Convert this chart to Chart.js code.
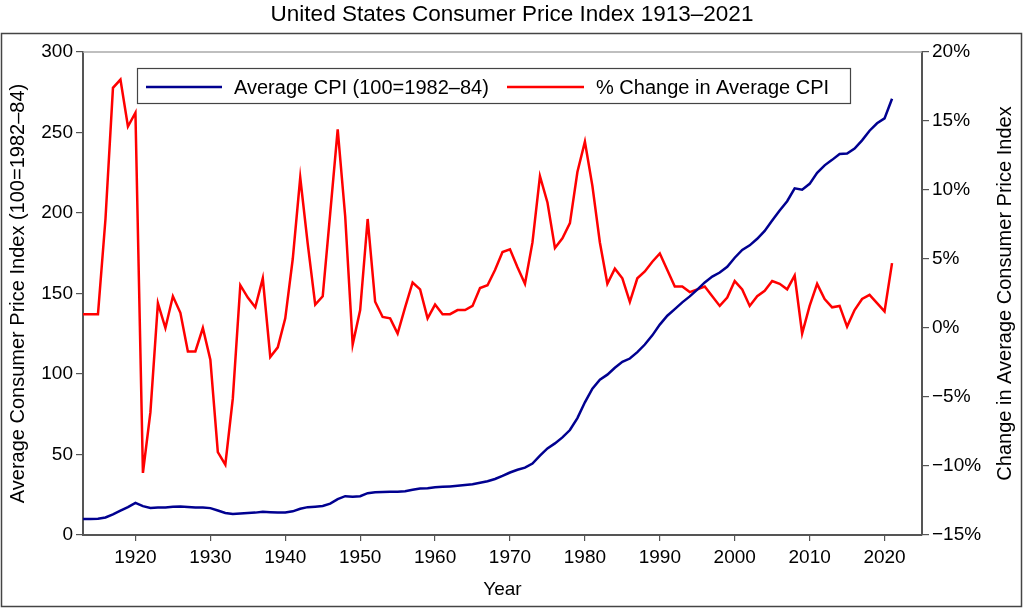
<!DOCTYPE html>
<html><head><meta charset="utf-8">
<script src="https://cdn.jsdelivr.net/npm/chart.js@4"></script>
<style>html,body{margin:0;padding:0;background:#fff}#wrap{width:1024px;height:609px;position:relative}</style>
</head><body><div id="wrap"><canvas id="c" width="1024" height="609"></canvas></div>
<script>
const years = [];
for (let y = 1913; y <= 2021; y++) years.push(y);
const cpi = [9.9,10.0,10.1,10.9,12.8,15.1,17.3,20.0,17.9,16.8,17.1,17.1,17.5,17.7,17.4,17.1,17.1,16.7,15.2,13.7,13.0,13.4,13.7,13.9,14.4,14.1,13.9,14.0,14.7,16.3,17.3,17.6,18.0,19.5,22.3,24.1,23.8,24.1,26.0,26.5,26.7,26.9,26.8,27.2,28.1,28.9,29.1,29.6,29.9,30.2,30.6,31.0,31.5,32.4,33.4,34.8,36.7,38.8,40.5,41.8,44.4,49.3,53.8,56.9,60.6,65.2,72.6,82.4,90.9,96.5,99.6,103.9,107.6,109.6,113.6,118.3,124.0,130.7,136.2,140.3,144.5,148.2,152.4,156.9,160.5,163.0,166.6,172.2,177.1,179.9,184.0,188.9,195.3,201.6,207.3,215.3,214.5,218.1,224.9,229.6,233.0,236.7,237.0,240.0,245.1,251.1,255.7,258.8,271.0];
const pctChange = [1.0,1.0,1.0,7.9,17.4,18.0,14.6,15.6,-10.5,-6.1,1.8,0.0,2.3,1.1,-1.7,-1.7,0.0,-2.3,-9.0,-9.9,-5.1,3.1,2.2,1.5,3.6,-2.1,-1.4,0.7,5.0,10.9,6.1,1.7,2.3,8.3,14.4,8.1,-1.2,1.3,7.9,1.9,0.8,0.7,-0.4,1.5,3.3,2.8,0.7,1.7,1.0,1.0,1.3,1.3,1.6,2.9,3.1,4.2,5.5,5.7,4.4,3.2,6.2,11.0,9.1,5.8,6.5,7.6,11.3,13.5,10.3,6.2,3.2,4.3,3.6,1.9,3.6,4.1,4.8,5.4,4.2,3.0,3.0,2.6,2.8,3.0,2.3,1.6,2.2,3.4,2.8,1.6,2.3,2.7,3.4,3.2,2.8,3.8,-0.4,1.6,3.2,2.1,1.5,1.6,0.1,1.3,2.1,2.4,1.8,1.2,4.7];
const xTicks = [1920,1930,1940,1950,1960,1970,1980,1990,2000,2010,2020];
const leftTicks = [0,50,100,150,200,250,300];
const rightTicks = [-15,-10,-5,0,5,10,15,20];
const titleText = 'United States Consumer Price Index 1913\u20132021';
const seriesNames = ['Average CPI (100=1982\u201384)', '% Change in Average CPI'];

const FONT = '"Liberation Sans", Arial, sans-serif';
const AXIS = '#555';

const decor = {
  id: 'decor',
  afterDraw(chart) {
    const ctx = chart.ctx, a = chart.chartArea;
    ctx.save();
    ctx.strokeStyle = '#444'; ctx.lineWidth = 1.5;
    ctx.strokeRect(1.5, 33.5, 1020, 573);
    ctx.strokeStyle = '#aaa'; ctx.lineWidth = 1.5;
    ctx.beginPath(); ctx.moveTo(a.left, a.top); ctx.lineTo(a.right, a.top); ctx.stroke();
    ctx.fillStyle = '#000'; ctx.font = '22.5px ' + FONT; ctx.textAlign = 'center'; ctx.textBaseline = 'middle';
    ctx.fillText(titleText, 512, 15);
    ctx.font = '20px ' + FONT;
    ctx.save(); ctx.translate(18, (a.top + a.bottom) / 2); ctx.rotate(-Math.PI / 2);
    ctx.fillText('Average Consumer Price Index (100=1982\u201384)', 0, 0); ctx.restore();
    ctx.save(); ctx.translate(1005, (a.top + a.bottom) / 2); ctx.rotate(-Math.PI / 2);
    ctx.fillText('Change in Average Consumer Price Index', 0, 0); ctx.restore();
    ctx.font = '19px ' + FONT;
    ctx.fillText('Year', (a.left + a.right) / 2, 590);
    ctx.fillStyle = '#fff'; ctx.fillRect(137, 68, 714, 36);
    ctx.strokeStyle = '#444'; ctx.lineWidth = 1.2; ctx.strokeRect(137.5, 68.5, 713, 35);
    const ly = 87;
    ctx.lineWidth = 2.5;
    ctx.strokeStyle = chart.data.datasets[0].borderColor;
    ctx.beginPath(); ctx.moveTo(146, ly); ctx.lineTo(222, ly); ctx.stroke();
    ctx.strokeStyle = chart.data.datasets[1].borderColor;
    ctx.beginPath(); ctx.moveTo(507, ly); ctx.lineTo(584, ly); ctx.stroke();
    ctx.fillStyle = '#000'; ctx.textAlign = 'left'; ctx.font = '20px ' + FONT;
    ctx.fillText(seriesNames[0], 234, ly + 1);
    ctx.fillText(seriesNames[1], 596, ly + 1);
    ctx.restore();
  }
};

new Chart(document.getElementById('c'), {
  type: 'line',
  data: {
    datasets: [
      { label: seriesNames[0], data: years.map((y, i) => ({x: y, y: cpi[i]})), borderColor: '#000090', borderWidth: 2.5, pointRadius: 0, yAxisID: 'y', tension: 0 },
      { label: seriesNames[1], data: years.map((y, i) => ({x: y, y: pctChange[i]})), borderColor: '#ff0000', borderWidth: 2.5, pointRadius: 0, yAxisID: 'y2', tension: 0 }
    ]
  },
  options: {
    responsive: false, animation: false,
    layout: { padding: { top: 52, left: 0, right: 0, bottom: 0 } },
    plugins: { legend: { display: false }, title: { display: false }, tooltip: { enabled: false } },
    scales: {
      x: {
        type: 'linear', min: 1913, max: 2025,
        afterBuildTicks(s) { s.ticks = xTicks.map(v => ({value: v})); },
        afterFit(s) { s.height = 74; },
        ticks: { color: '#000', font: { family: FONT, size: 19 }, padding: 5, maxRotation: 0, autoSkip: false, callback: v => String(v) },
        grid: { drawOnChartArea: false, tickLength: 6, color: AXIS, lineWidth: 1.2 },
        border: { color: AXIS, width: 2 }
      },
      y: {
        position: 'left', min: 0, max: 300,
        afterBuildTicks(s) { s.ticks = leftTicks.map(v => ({value: v})); },
        afterFit(s) { s.width = 83; },
        ticks: { color: '#000', font: { family: FONT, size: 19 }, padding: 3 },
        grid: { drawOnChartArea: false, tickLength: 7, color: AXIS, lineWidth: 1.2 },
        border: { color: AXIS, width: 2 }
      },
      y2: {
        position: 'right', min: -15, max: 20,
        afterBuildTicks(s) { s.ticks = rightTicks.map(v => ({value: v})); },
        afterFit(s) { s.width = 102; },
        ticks: { color: '#000', font: { family: FONT, size: 19 }, padding: 3, callback: v => (v < 0 ? '\u2212' + Math.abs(v) : v) + '%' },
        grid: { drawOnChartArea: false, tickLength: 7, color: AXIS, lineWidth: 1.2 },
        border: { color: AXIS, width: 2 }
      }
    }
  },
  plugins: [decor]
});
</script></body></html>
